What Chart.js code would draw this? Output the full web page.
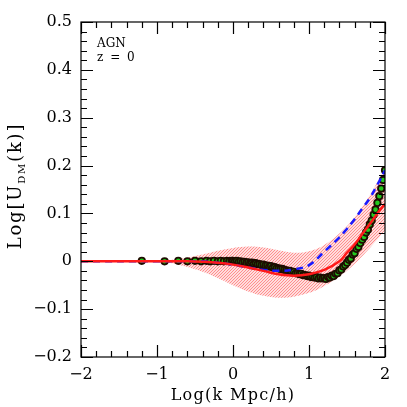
<!DOCTYPE html>
<html>
<head>
<meta charset="utf-8">
<script src="https://cdn.jsdelivr.net/npm/chart.js@4.4.1/dist/chart.umd.min.js"></script>
<style>
  html, body { margin: 0; padding: 0; background: #fff; }
</style>
</head>
<body>
<div style="width:407px;height:407px"><canvas id="myChart" width="407" height="407"></canvas></div>
<script>
// tick labels
let xTicks = [-2, -1, 0, 1, 2];
let yTicks = [-0.2, -0.1, 0, 0.1, 0.2, 0.3, 0.4, 0.5];

// simulation points (log k, log U)
let simX = [-1.2, -0.9, -0.72, -0.6, -0.5, -0.42, -0.35, -0.3, -0.25, -0.2, -0.16, -0.12, -0.08, -0.05, -0.02,
  0.000, 0.025, 0.050, 0.075, 0.100, 0.125, 0.150, 0.175, 0.200, 0.225, 0.250, 0.275, 0.300, 0.325, 0.350, 0.375,
  0.400, 0.425, 0.450, 0.475, 0.500, 0.525, 0.550, 0.575, 0.600, 0.625, 0.650, 0.675, 0.700, 0.725, 0.750, 0.775,
  0.800, 0.825, 0.850, 0.875, 0.900, 0.925, 0.950, 0.975, 1.000, 1.025, 1.050, 1.075, 1.100, 1.125, 1.150, 1.175,
  1.200, 1.225, 1.250, 1.275, 1.300, 1.325, 1.350, 1.375, 1.400, 1.425, 1.450, 1.475, 1.500, 1.525, 1.550, 1.575,
  1.600, 1.625, 1.650, 1.675, 1.700, 1.725, 1.750, 1.775, 1.800, 1.825, 1.850, 1.875, 1.900, 1.925, 1.950, 1.975, 2.000];
let simY = [0.001, 0.000, 0.001, 0.000, 0.001, 0.000, 0.001, 0.000, 0.001, 0.000, 0.001, 0.000, 0.001, 0.000, 0.001,
  0.001, 0.000, 0.001, -0.001, 0.000, -0.002, -0.001, -0.003, -0.002, -0.004, -0.003, -0.005, -0.004, -0.006, -0.006, -0.008,
  -0.007, -0.009, -0.009, -0.011, -0.010, -0.013, -0.012, -0.014, -0.015, -0.016, -0.016, -0.018, -0.019, -0.020, -0.020, -0.023,
  -0.022, -0.025, -0.025, -0.027, -0.026, -0.029, -0.029, -0.031, -0.030, -0.033, -0.032, -0.034, -0.033, -0.036, -0.034, -0.036,
  -0.035, -0.037, -0.033, -0.034, -0.030, -0.031, -0.026, -0.025, -0.019, -0.017, -0.011, -0.008, -0.003, 0.003, 0.006, 0.014,
  0.017, 0.026, 0.030, 0.038, 0.045, 0.051, 0.060, 0.066, 0.077, 0.085, 0.097, 0.108, 0.122, 0.136, 0.152, 0.170, 0.190];

// model curves
let modelX = [-2, -1, -0.6, -0.4, -0.2, 0, 0.2, 0.4, 0.6, 0.8, 1.0, 1.2, 1.4, 1.5, 1.6, 1.7, 1.8, 1.9, 2.0];
let redY   = [0, 0, 0, -0.001, -0.003, -0.007, -0.013, -0.02, -0.027, -0.03, -0.027, -0.018, 0.0, 0.018, 0.035, 0.057, 0.078, 0.1, 0.12];
let blueY  = [0, 0, 0, 0, -0.003, -0.007, -0.013, -0.018, -0.02, -0.017, -0.008, 0.02, 0.05, 0.068, 0.088, 0.11, 0.132, 0.16, 0.19];

// scatter band around the red model
let bandX  = [-2, -1.0, -0.8, -0.6, -0.4, -0.2, 0.0, 0.2, 0.4, 0.6, 0.8, 1.0, 1.2, 1.4, 1.6, 1.8, 2.0];
let bandLo = [0, 0, -0.004, -0.012, -0.022, -0.035, -0.05, -0.063, -0.072, -0.076, -0.074, -0.066, -0.052, -0.032, -0.005, 0.028, 0.065];
let bandHi = [0, 0, 0.003, 0.008, 0.014, 0.022, 0.028, 0.031, 0.029, 0.023, 0.018, 0.021, 0.034, 0.058, 0.092, 0.138, 0.195];

function pts(xs, ys) {
  return xs.map((x, i) => ({ x: x, y: ys[i] }));
}

let myChart = document.getElementById('myChart').getContext('2d');

// hatch pattern for the band
let pc = document.createElement('canvas');
pc.width = 6; pc.height = 6;
let pctx = pc.getContext('2d');
pctx.strokeStyle = '#ff8a8a';
pctx.lineWidth = 1.1;
pctx.beginPath();
pctx.moveTo(-1, 7); pctx.lineTo(7, -1);
pctx.moveTo(-4, 4); pctx.lineTo(4, -4);
pctx.moveTo(2, 10); pctx.lineTo(10, 2);
pctx.moveTo(-1, 4); pctx.lineTo(4, -1);
pctx.moveTo(2, 7); pctx.lineTo(7, 2);
pctx.stroke();
let hatch = myChart.createPattern(pc, 'repeat');

let minus = v => {
  let s = (Math.abs(v) < 1e-9) ? '0' : String(Math.round(v * 10) / 10);
  return s.replace('-', '\u2212');
};

let frame = {
  id: 'frame',
  afterDatasetsDraw(chart) {
    let ctx = chart.ctx, a = chart.chartArea;
    let xs = chart.scales.x, ys = chart.scales.y;
    ctx.save();
    ctx.strokeStyle = '#000';
    ctx.lineWidth = 1.2;
    ctx.strokeRect(a.left, a.top, a.right - a.left, a.bottom - a.top);
    // x ticks, top and bottom
    for (let i = 0; i <= 20; i++) {
      let v = -2 + i * 0.2;
      let px = Math.round(xs.getPixelForValue(v)) + 0.5;
      let len = (i % 5 === 0) ? 12 : 6;
      ctx.beginPath();
      ctx.moveTo(px, a.bottom); ctx.lineTo(px, a.bottom - len);
      ctx.moveTo(px, a.top); ctx.lineTo(px, a.top + len);
      ctx.stroke();
    }
    // y ticks, left and right
    for (let i = 0; i <= 35; i++) {
      let v = -0.2 + i * 0.02;
      let py = Math.round(ys.getPixelForValue(v)) + 0.5;
      let len = (i % 5 === 0) ? 12 : 6;
      ctx.beginPath();
      ctx.moveTo(a.left, py); ctx.lineTo(a.left + len, py);
      ctx.moveTo(a.right, py); ctx.lineTo(a.right - len, py);
      ctx.stroke();
    }
    // labels inside the frame
    ctx.fillStyle = '#000';
    ctx.font = '12px "DejaVu Serif"';
    ctx.textAlign = 'left';
    ctx.textBaseline = 'alphabetic';
    ctx.fillText('AGN', a.left + 16, 47);
    ctx.letterSpacing = '1.5px';
    ctx.fillText('z = 0', a.left + 16, 61);
    // x axis title
    ctx.font = '16px "DejaVu Serif"';
    ctx.letterSpacing = '1.3px';
    ctx.textAlign = 'center';
    ctx.fillText('Log(k Mpc/h)', (a.left + a.right) / 2, 400);
    // y axis title with subscript
    ctx.letterSpacing = '1.8px';
    ctx.translate(21, 186);
    ctx.rotate(-Math.PI / 2);
    ctx.textAlign = 'left';
    let p1 = 'Log[U', sub = 'DM', p2 = '(k)]';
    ctx.font = '18px "DejaVu Serif"';
    let w1 = ctx.measureText(p1).width, w3 = ctx.measureText(p2).width;
    ctx.font = '10px "DejaVu Serif"';
    let w2 = ctx.measureText(sub).width;
    let x0 = -(w1 + w2 + w3) / 2;
    ctx.font = '18px "DejaVu Serif"';
    ctx.fillText(p1, x0, 0);
    ctx.font = '10px "DejaVu Serif"';
    ctx.fillText(sub, x0 + w1, 4);
    ctx.font = '18px "DejaVu Serif"';
    ctx.fillText(p2, x0 + w1 + w2, 0);
    ctx.restore();
  }
};

let chart = new Chart(myChart, {
  type: 'scatter',
  data: {
    datasets: [
      {
        label: 'band low',
        data: pts(bandX, bandLo),
        showLine: true,
        borderWidth: 0,
        borderColor: 'rgba(0,0,0,0)',
        pointRadius: 0,
        tension: 0.4,
        fill: false,
        order: 5
      },
      {
        label: 'band high',
        data: pts(bandX, bandHi),
        showLine: true,
        borderWidth: 0,
        borderColor: 'rgba(0,0,0,0)',
        pointRadius: 0,
        backgroundColor: () => hatch,
        fill: '-1',
        tension: 0.4,
        order: 4
      },
      {
        label: 'simulation',
        data: pts(simX, simY),
        pointRadius: 3.2,
        pointBorderWidth: 1.8,
        pointBackgroundColor: '#22c81e',
        pointBorderColor: '#1e0c00',
        order: 2
      },
      {
        label: 'blue',
        data: pts(modelX, blueY),
        showLine: true,
        borderColor: '#1a1aff',
        borderWidth: 2.5,
        borderDash: [7, 5],
        pointRadius: 0,
        tension: 0.4,
        fill: false,
        order: 1
      },
      {
        label: 'red',
        data: pts(modelX, redY),
        showLine: true,
        borderColor: '#ff1a1a',
        borderWidth: 2.5,
        pointRadius: 0,
        tension: 0.4,
        fill: false,
        order: 0
      }
    ]
  },
  options: {
    responsive: false,
    animation: false,
    layout: { padding: { top: 22, right: 22, left: 0, bottom: 0 } },
    plugins: {
      legend: { display: false },
      tooltip: { enabled: false },
      filler: { propagate: false }
    },
    scales: {
      x: {
        type: 'linear',
        min: -2, max: 2,
        afterBuildTicks: s => { s.ticks = xTicks.map(v => ({ value: v })); },
        afterFit: s => { s.height = 50; },
        grid: { display: false, drawTicks: false },
        border: { display: false },
        ticks: {
          color: '#000',
          padding: 8,
          maxRotation: 0,
          font: { family: 'DejaVu Serif', size: 16 },
          callback: v => minus(v)
        }
      },
      y: {
        type: 'linear',
        min: -0.2, max: 0.5,
        afterBuildTicks: s => { s.ticks = yTicks.map(v => ({ value: v })); },
        afterFit: s => { s.width = 81; },
        grid: { display: false, drawTicks: false },
        border: { display: false },
        ticks: {
          color: '#000',
          padding: 9,
          font: { family: 'DejaVu Serif', size: 16 },
          callback: v => minus(v)
        }
      }
    }
  },
  plugins: [frame]
});
</script>
</body>
</html>
